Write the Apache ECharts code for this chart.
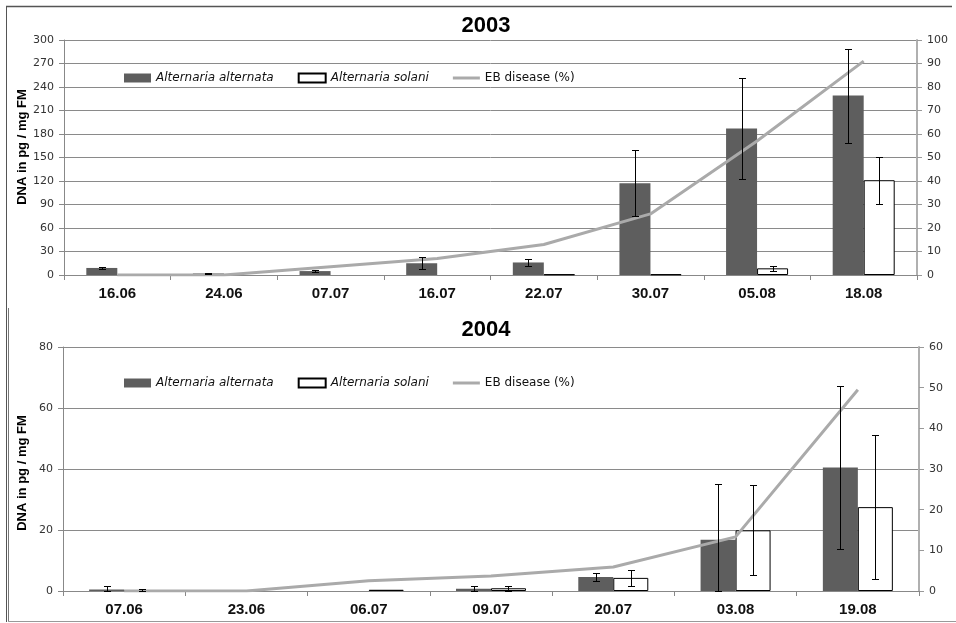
<!DOCTYPE html>
<html>
<head>
<meta charset="utf-8">
<script src="https://cdn.jsdelivr.net/npm/echarts@6/dist/echarts.min.js"></script>
<style>
html,body{margin:0;padding:0;background:#fff;}
#chart{width:956px;height:623px;}
</style>
</head>
<body>
<div id="chart"></div>
<script>
// ---- Data (2003) ----
const cats2003 = ['16.06','24.06','07.07','16.07','22.07','30.07','05.08','18.08'];
const alt2003 = [9, 2, 5, 15, 16, 117, 187, 229];
const altErr2003 = [1.5, 0.5, 1.5, 7.5, 4, 42, 64, 60];
const sol2003 = [0, 0, 0, 0, 0.8, 0.8, 8.5, 121];
const solErr2003 = [0, 0, 0, 0, 0, 0, 3, 30];
const eb2003 = [0, 0, 3.5, 7, 13, 26, 57, 91];

// ---- Data (2004) ----
const cats2004 = ['07.06','23.06','06.07','09.07','20.07','03.08','19.08'];
const alt2004 = [0.5, 0, 0, 0.7, 4.6, 16.8, 40.5];
const altErr2004 = [1, 0, 0, 1, 1.4, 18.3, 26.7];
const sol2004 = [0.2, 0, 0.4, 0.9, 4.3, 19.9, 27.5];
const solErr2004 = [0.3, 0, 0, 0.8, 2.6, 14.7, 23.6];
const eb2004 = [0, 0, 2.5, 3.7, 5.9, 13.3, 49.5];

const titles = ['2003', '2004'];
const seriesNames = ['Alternaria alternata', 'Alternaria solani', 'EB disease (%)'];
const yAxisTitle = 'DNA in pg / mg FM';

const gap2003 = 0.42, gap2004 = 0.43;

function errRender(gap, side) {
  return function (params, api) {
    const x = api.value(0), v = api.value(1), e = api.value(2);
    if (!e) return;
    const band = api.size([1, 0])[0];
    const bw = band * (1 - gap) / 2;
    const c = api.coord([x, v]);
    const cx = Math.round(c[0] + side * bw / 2) + 0.5;
    const top = Math.round(api.coord([x, v + e])[1]) + 0.5;
    const bot = Math.round(api.coord([x, Math.max(0, v - e)])[1]) + 0.5;
    const cap = 3.5;
    const st = { stroke: '#000', lineWidth: 1 };
    return {
      type: 'group',
      children: [
        { type: 'line', shape: { x1: cx, y1: top, x2: cx, y2: bot }, style: st },
        { type: 'line', shape: { x1: cx - cap, y1: top, x2: cx + cap, y2: top }, style: st },
        { type: 'line', shape: { x1: cx - cap, y1: bot, x2: cx + cap, y2: bot }, style: st }
      ]
    };
  };
}

function errData(vals, errs) {
  return vals.map((v, i) => [i, v, errs[i]]);
}
// zero-height bars are not drawn in the reference
function barData(vals) {
  return vals.map(v => (v === 0 ? null : v));
}

const tickFont = { fontFamily: 'DejaVu Sans', fontSize: 11, color: '#333' };
const catLabel = { fontFamily: 'Liberation Sans', fontSize: 15, fontWeight: 'bold', color: '#111', margin: 11 };
const lineIcon = 'path://M0,0L0,0M0,3L27,3L27,6L0,6ZM27,9L27,9';

function legendCfg(gridIdx, top) {
  return {
    left: 124, top: top, itemWidth: 27, itemHeight: 9, itemGap: 24, padding: 0,
    selectedMode: false,
    textStyle: { fontFamily: 'DejaVu Sans', fontSize: 12, color: '#111' },
    data: [
      { name: seriesNames[0] + (gridIdx ? ' ' : ''), icon: 'rect', textStyle: { fontStyle: 'italic' } },
      { name: seriesNames[1] + (gridIdx ? ' ' : ''), icon: 'rect', textStyle: { fontStyle: 'italic' } },
      { name: seriesNames[2] + (gridIdx ? ' ' : ''), icon: lineIcon }
    ],
    formatter: function (n) { return n.trim(); }
  };
}

function yAxes(gridIdx, max, interval, rmax, rinterval) {
  return [
    {
      type: 'value', gridIndex: gridIdx, min: 0, max: max, interval: interval, position: 'left',
      axisLine: { show: true, lineStyle: { color: '#888', width: 1 } },
      axisTick: { show: true, length: 5, lineStyle: { color: '#888' } },
      axisLabel: Object.assign({ margin: 10 }, tickFont),
      splitLine: { show: true, lineStyle: { color: '#8a8a8a', width: 1 } }
    },
    {
      type: 'value', gridIndex: gridIdx, min: 0, max: rmax, interval: rinterval, position: 'right',
      axisLine: { show: true, lineStyle: { color: '#b0b0b0', width: 2 } },
      axisTick: { show: true, length: 5, lineStyle: { color: '#999' } },
      axisLabel: Object.assign({ margin: 10 }, tickFont),
      splitLine: { show: false }
    }
  ];
}

function xAxis(gridIdx, cats) {
  return {
    type: 'category', gridIndex: gridIdx, data: cats,
    axisLine: { show: true, lineStyle: { color: '#888' } },
    axisTick: { show: true, length: 5, alignWithLabel: false, lineStyle: { color: '#888' } },
    axisLabel: catLabel
  };
}

function seriesFor(gridIdx, alt, altErr, sol, solErr, eb, barW, gap) {
  const sfx = gridIdx ? ' ' : '';
  const yl = gridIdx * 2, yr = gridIdx * 2 + 1;
  return [
    {
      name: seriesNames[0] + sfx, type: 'bar', xAxisIndex: gridIdx, yAxisIndex: yl,
      data: barData(alt), barWidth: barW, barGap: '0%',
      itemStyle: { color: '#5e5e5e' }, z: 2
    },
    {
      name: seriesNames[1] + sfx, type: 'bar', xAxisIndex: gridIdx, yAxisIndex: yl,
      data: barData(sol), barWidth: barW, barGap: '0%',
      itemStyle: { color: '#ffffff', borderColor: '#000', borderWidth: 1 }, z: 2
    },
    {
      name: seriesNames[2] + sfx, type: 'line', xAxisIndex: gridIdx, yAxisIndex: yr,
      data: eb, symbol: 'none', smooth: false,
      lineStyle: { color: '#aaaaaa', width: 3 }, itemStyle: { color: '#aaaaaa' }, z: 3
    },
    {
      type: 'custom', xAxisIndex: gridIdx, yAxisIndex: yl, z: 4,
      renderItem: errRender(gap, -1), data: errData(alt, altErr), silent: true
    },
    {
      type: 'custom', xAxisIndex: gridIdx, yAxisIndex: yl, z: 4,
      renderItem: errRender(gap, 1), data: errData(sol, solErr), silent: true
    }
  ];
}

const chart = echarts.init(document.getElementById('chart'), null, { renderer: 'canvas' });

const option = {
  animation: false,
  backgroundColor: '#fff',
  grid: [
    { left: 64, right: 39, top: 40, height: 235 },
    { left: 63, right: 37, top: 347, height: 244 }
  ],
  legend: [legendCfg(0, 72), legendCfg(1, 377)],
  xAxis: [xAxis(0, cats2003), xAxis(1, cats2004)],
  yAxis: yAxes(0, 300, 30, 100, 10).concat(yAxes(1, 80, 20, 60, 10)),
  series: seriesFor(0, alt2003, altErr2003, sol2003, solErr2003, eb2003, 31, gap2003)
    .concat(seriesFor(1, alt2004, altErr2004, sol2004, solErr2004, eb2004, 35, gap2004)),
  graphic: [
    { type: 'line', shape: { x1: 6, y1: 6.5, x2: 952, y2: 6.5 }, style: { stroke: '#555', lineWidth: 1.5 }, silent: true },
    { type: 'line', shape: { x1: 6.5, y1: 6, x2: 6.5, y2: 622 }, style: { stroke: '#555', lineWidth: 1 }, silent: true },
    { type: 'line', shape: { x1: 8.5, y1: 308, x2: 8.5, y2: 621 }, style: { stroke: '#777', lineWidth: 1 }, silent: true },
    { type: 'line', shape: { x1: 8, y1: 621.5, x2: 956, y2: 621.5 }, style: { stroke: '#999', lineWidth: 1 }, silent: true },
    { type: 'text', x: 486, y: 26, silent: true,
      style: { text: titles[0], textAlign: 'center', textVerticalAlign: 'middle', font: 'bold 22px "Liberation Sans"', fill: '#000' } },
    { type: 'text', x: 486, y: 330, silent: true,
      style: { text: titles[1], textAlign: 'center', textVerticalAlign: 'middle', font: 'bold 22px "Liberation Sans"', fill: '#000' } },
    { type: 'text', x: 22, y: 147, rotation: Math.PI / 2, silent: true,
      style: { text: yAxisTitle, textAlign: 'center', textVerticalAlign: 'middle', font: 'bold 13px "Liberation Sans"', fill: '#000' } },
    { type: 'text', x: 22, y: 473, rotation: Math.PI / 2, silent: true,
      style: { text: yAxisTitle, textAlign: 'center', textVerticalAlign: 'middle', font: 'bold 13px "Liberation Sans"', fill: '#000' } }
  ]
};

chart.setOption(option);
</script>
</body>
</html>
